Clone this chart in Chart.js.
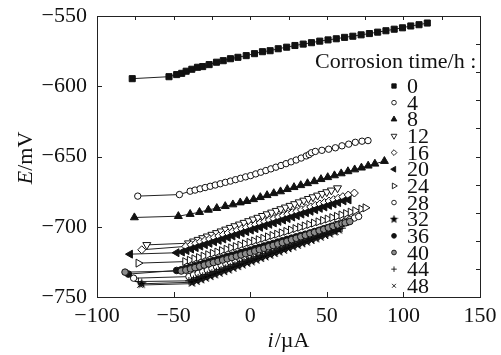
<!DOCTYPE html>
<html><head><meta charset="utf-8">
<script src="https://cdn.jsdelivr.net/npm/chart.js@4"></script>
<style>html,body{margin:0;padding:0;background:#fff}</style>
</head><body>
<canvas id="c" width="501" height="355"></canvas>
<script>
// ---- data ----
const hours = ['0','4','8','12','16','20','24','28','32','36','40','44','48'];
const xTicks = [-100,-50,0,50,100,150];
const yTicks = [-750,-700,-650,-600,-550];
const legendTitle = 'Corrosion time/h :';

const i_0h = [-77,-53,-48,-44.7,-41.8,-38.1,-34.4,-31,-26.8,-22,-17.6,-12.9,-8,-2.6,2.8,8,13,18.3,23.8,29.2,34.6,40,45.4,50.8,56.2,61.6,67,72.4,77.8,83.2,88.6,94,99.4,104.8,110.2,115.6];
const E_0h = [-594.6,-593.2,-591.7,-590.8,-589.3,-587.9,-586.5,-586,-584.6,-582.9,-581.8,-580.4,-579.4,-578.2,-576.8,-575.4,-574.7,-573.3,-572.2,-571,-570,-569,-567.9,-567,-566.2,-565.2,-564.4,-563.4,-562.5,-561.5,-560.5,-559.4,-558.4,-557.1,-556.2,-555];

const i_4h = [-73.4,-46.2,-39.2,-36,-32.7,-29.4,-26.1,-22.8,-19.5,-16.2,-12.9,-9.6,-6.3,-3,0.3,3.6,6.9,10.2,13.5,16.8,20.1,23.4,26.7,30,33.3,36.6,38.5,40,42.5,46.8,51.2,55.6,59.9,64.3,68.6,73,76.9];
const E_4h = [-678.2,-677.1,-674.7,-673.9,-673,-672.1,-671.2,-670.3,-669.4,-668.4,-667.5,-666.5,-665.5,-664.5,-663.6,-662.4,-661.2,-660,-658.8,-657.6,-656.4,-655.1,-653.8,-652.5,-651.1,-649.6,-648.6,-647.3,-646.4,-645.6,-644.8,-643.8,-642.4,-641.2,-639.9,-639.1,-638.7];

const i_8h = [-75.6,-46.9,-39.2,-33.1,-27.3,-21.8,-16.3,-11.3,-6.5,-2.2,2.2,6.6,11,15.4,19.8,24.2,28.6,33,37.4,41.8,46.2,50.6,55,59.4,63.8,68.2,72.6,77,81.4,87.6];
const E_8h = [-693.4,-692.5,-691,-689.6,-688,-686.8,-685.4,-684.2,-682.8,-681.8,-680.5,-679,-677.6,-676.2,-674.9,-673.3,-671.9,-670.5,-669.1,-667.7,-666.2,-664.8,-663.5,-662.1,-660.6,-659.3,-658,-656.6,-655.2,-653.3];

const i_12h = [-67.5,-40.3,-37,-34,-31,-28,-25,-22,-19,-16,-13,-10,-7,-4,-1,2,5,8,11,14,17,20,23,26,29,32,35,38,41,44,47,50,53,57];
const E_12h = [-712.9,-711.7,-710.4,-709.2,-708,-706.8,-705.6,-704.4,-703.2,-701.9,-700.7,-699.5,-698.3,-697.1,-695.9,-694.7,-693.5,-692.2,-691,-689.8,-688.6,-687.4,-686.2,-685,-683.8,-682.5,-681.3,-680.1,-678.9,-677.7,-676.5,-675.3,-674.1,-672.5];

const i_16h = [-70.8,-42,-38.5,-35.5,-32.5,-29.5,-26.5,-23.5,-20.5,-17.5,-14.5,-11.5,-8.5,-5.5,-2.5,0.5,3.5,6.5,9.5,12.5,15.5,18.5,21.5,24.5,27.5,30.5,33.5,36.5,39.5,42.5,45.5,48.5,51.5,54.5,57.5,60.5,64,68];
const E_16h = [-716.4,-714,-712.8,-711.8,-710.7,-709.7,-708.7,-707.6,-706.6,-705.6,-704.5,-703.5,-702.5,-701.4,-700.4,-699.3,-698.3,-697.3,-696.2,-695.2,-694.2,-693.1,-692.1,-691.1,-690,-689,-688,-686.9,-685.9,-684.8,-683.8,-682.8,-681.7,-680.7,-679.7,-678.6,-677.4,-676];

const i_20h = [-78.4,-48,-44.5,-41.5,-38.5,-35.5,-32.5,-29.5,-26.5,-23.5,-20.5,-17.5,-14.5,-11.5,-8.5,-5.5,-2.5,0.5,3.5,6.5,9.5,12.5,15.5,18.5,21.5,24.5,27.5,30.5,33.5,36.5,39.5,42.5,45.5,48.5,51.5,54.5,57.5,61,64.3];
const E_20h = [-719.5,-718.5,-718,-717,-715.9,-714.9,-713.8,-712.8,-711.8,-710.7,-709.7,-708.7,-707.6,-706.6,-705.6,-704.5,-703.5,-702.4,-701.4,-700.4,-699.3,-698.3,-697.3,-696.2,-695.2,-694.2,-693.1,-692.1,-691,-690,-689,-687.9,-686.9,-685.9,-684.8,-683.8,-682.8,-681.6,-680.9];

const i_24h = [-73,-42.5,-39.5,-36.5,-33.5,-30.5,-27.5,-24.5,-21.5,-18.5,-15.5,-12.5,-9.5,-6.5,-3.5,-0.5,2.5,5.5,8.5,11.5,14.5,17.5,20.5,23.5,26.5,29.5,32.5,35.5,38.5,41.5,44.5,47.5,50.5,53.5,56.5,59.5,62.5,65.5,68.5,72.5,75.2];
const E_24h = [-725.9,-724.8,-723.8,-722.8,-721.9,-720.9,-719.9,-718.9,-718,-717,-716,-715,-714.1,-713.1,-712.1,-711.1,-710.1,-709.2,-708.2,-707.2,-706.2,-705.3,-704.3,-703.3,-702.3,-701.3,-700.4,-699.4,-698.4,-697.4,-696.5,-695.5,-694.5,-693.5,-692.6,-691.6,-690.6,-689.6,-688.6,-687.4,-686.5];

const i_28h = [-76.1,-40,-37,-34,-31,-28,-25,-22,-19,-16,-13,-10,-7,-4,-1,2,5,8,11,14,17,20,23,26,29,32,35,38,41,44,47,50,53,56,59,62,65,68,70.8];
const E_28h = [-736.6,-735.5,-734.3,-733.2,-732,-730.8,-729.7,-728.5,-727.3,-726.1,-725,-723.8,-722.6,-721.5,-720.3,-719.3,-718.1,-716.9,-715.8,-714.6,-713.5,-712.3,-711.2,-710,-708.9,-707.7,-706.5,-705.4,-704.2,-703.1,-701.9,-700.8,-699.6,-698.4,-697.3,-696.1,-695,-693.8,-692.7];

const i_32h = [-70.8,-38,-35,-32,-29,-26,-23,-20,-17,-14,-11,-8,-5,-2,1,4,7,10,13,16,19,22,25,28,31,34,37,40,43,46,49,52,55,58];
const E_32h = [-740.6,-739.5,-738.3,-737.2,-736,-734.8,-733.6,-732.4,-731.3,-730.1,-728.9,-727.7,-726.5,-725.4,-724.2,-723.1,-721.9,-720.8,-719.6,-718.4,-717.3,-716.1,-714.9,-713.8,-712.6,-711.4,-710.2,-709.1,-707.9,-706.7,-705.5,-704.4,-703.2,-702];

const i_36h = [-79.5,-48,-45,-42,-39,-36,-33,-30,-27,-24,-21,-18,-15,-12,-9,-6,-3,0,3,6,9,12,15,18,21,24,27,30,33,36,39,42,45,48,51,54,57,60,63];
const E_36h = [-733.7,-731.1,-730.6,-729.7,-728.7,-727.8,-726.9,-725.9,-725,-724.1,-723.1,-722.2,-721.2,-720.3,-719.4,-718.4,-717.5,-716.6,-715.6,-714.7,-713.7,-712.8,-711.9,-710.9,-710,-709,-708.1,-707.2,-706.2,-705.3,-704.4,-703.4,-702.5,-701.5,-700.6,-699.7,-698.7,-697.8,-697];

const i_40h = [-81.7,-45,-42,-39,-36,-33,-30,-27,-24,-21,-18,-15,-12,-9,-6,-3,0,3,6,9,12,15,18,21,24,27,30,33,36,39,42,45,48,51,54,57,60,62,65];
const E_40h = [-732.3,-731.5,-730.9,-730,-729.1,-728.2,-727.3,-726.4,-725.5,-724.6,-723.7,-722.8,-721.9,-721,-720.1,-719.2,-718.3,-717.3,-716.3,-715.3,-714.3,-713.3,-712.3,-711.3,-710.3,-709.2,-708.2,-707.1,-706.1,-705,-704,-702.9,-701.9,-700.8,-699.8,-698.8,-697.8,-697.2,-696.3];

const i_44h = [-73,-40,-37,-34,-31,-28,-25,-22,-19,-16,-13,-10,-7,-4,-1,2,5,8,11,14,17,20,23,26,29,32,35,38,41,44,47,50,53,56,60];
const E_44h = [-739,-738.5,-737.4,-736.3,-735.1,-734,-732.9,-731.8,-730.6,-729.5,-728.4,-727.3,-726.1,-725,-723.9,-722.8,-721.6,-720.5,-719.4,-718.3,-717.1,-716,-714.9,-713.8,-712.6,-711.5,-710.4,-709.3,-708.1,-707,-705.9,-704.8,-703.6,-702.5,-701];

const i_48h = [-72,-38,-35,-32,-29,-26,-23,-20,-17,-14,-11,-8,-5,-2,1,4,7,10,13,16,19,22,25,28,31,34,37,40,43,46,49,52,56];
const E_48h = [-741.5,-740.5,-739.3,-738.2,-737,-735.8,-734.7,-733.5,-732.4,-731.2,-730,-728.9,-727.7,-726.5,-725.4,-724.2,-723.1,-721.9,-720.7,-719.6,-718.4,-717.2,-716.1,-714.9,-713.7,-712.6,-711.4,-710.3,-709.1,-707.9,-706.8,-705.6,-704];

const seriesI = [i_0h,i_4h,i_8h,i_12h,i_16h,i_20h,i_24h,i_28h,i_32h,i_36h,i_40h,i_44h,i_48h];
const seriesE = [E_0h,E_4h,E_8h,E_12h,E_16h,E_20h,E_24h,E_28h,E_32h,E_36h,E_40h,E_44h,E_48h];

// ---- marker styles ----
function makeStar(size){
  const c=document.createElement('canvas'); c.width=size; c.height=size;
  const g=c.getContext('2d'); const cx=size/2, cy=size/2, R=size/2, r=R*0.42;
  g.beginPath();
  for(let k=0;k<10;k++){const a=-Math.PI/2+k*Math.PI/5; const rr=k%2?r:R; g.lineTo(cx+rr*Math.cos(a),cy+rr*Math.sin(a));}
  g.closePath(); g.fillStyle='#000'; g.fill(); return c;
}
const starBig = makeStar(11), starSmall = makeStar(9);
const styles = [
  {ps:'rect', r:4.3, fill:'#111', rot:0},
  {ps:'circle', r:3.2, fill:'#fff', rot:0},
  {ps:'triangle', r:4.6, fill:'#111', rot:0},
  {ps:'triangle', r:4.6, fill:'#fff', rot:180},
  {ps:'rectRot', r:4, fill:'#fff', rot:0},
  {ps:'triangle', r:4.6, fill:'#111', rot:270},
  {ps:'triangle', r:4.6, fill:'#fff', rot:90},
  {ps:'circle', r:3.2, fill:'#fff', rot:0},
  {ps:starBig, r:5, fill:'#111', rot:0, small:starSmall},
  {ps:'circle', r:3.3, fill:'#111', rot:0},
  {ps:'circle', r:3.3, fill:'#8c8c8c', rot:0},
  {ps:'cross', r:3.8, fill:'#111', rot:0},
  {ps:'crossRot', r:3.8, fill:'#111', rot:0}
];

const FONT = "'Liberation Serif','Times New Roman',serif";
const datasets = hours.map((h,k)=>({
  label: h,
  data: seriesI[k].map((x,j)=>({x:x, y:seriesE[k][j]})),
  showLine: true,
  tension: 0,
  borderColor: '#222',
  borderWidth: 1,
  pointStyle: styles[k].ps,
  pointRadius: styles[k].r,
  pointRotation: styles[k].rot,
  pointBackgroundColor: styles[k].fill,
  pointBorderColor: '#111',
  pointBorderWidth: 1,
  order: 12 - k
}));

const decor = {
  id: 'decor',
  afterDraw(chart){
    const ctx = chart.ctx, a = chart.chartArea, xs = chart.scales.x, ys = chart.scales.y;
    ctx.save();
    ctx.strokeStyle = '#222'; ctx.lineWidth = 1;
    ctx.strokeRect(Math.round(a.left)+0.5, Math.round(a.top)+0.5, Math.round(a.right-a.left), Math.round(a.bottom-a.top));
    ctx.beginPath();
    xTicks.forEach(v=>{const p=Math.round(xs.getPixelForValue(v))+0.5; ctx.moveTo(p,a.bottom); ctx.lineTo(p,a.bottom-5);});
    for(let v=-100; v<=150; v+=25){const p=Math.round(xs.getPixelForValue(v))+0.5; ctx.moveTo(p,a.top); ctx.lineTo(p,a.top+4);}
    yTicks.forEach(v=>{const p=Math.round(ys.getPixelForValue(v))+0.5; ctx.moveTo(a.left,p); ctx.lineTo(a.left+5,p);});
    for(let v=-750; v<=-550; v+=20){const p=Math.round(ys.getPixelForValue(v))+0.5; ctx.moveTo(a.right,p); ctx.lineTo(a.right-4,p);}
    ctx.stroke();

    // legend
    ctx.fillStyle = '#111';
    ctx.font = '22px ' + FONT;
    ctx.textBaseline = 'alphabetic';
    ctx.textAlign = 'left';
    ctx.fillText(legendTitle, 315, 68);
    hours.forEach((h,k)=>{
      const base = 93 + 16.65*k;
      ctx.fillStyle = '#111';
      ctx.fillText(h, 407, base);
      const s = styles[k];
      ctx.fillStyle = s.fill; ctx.strokeStyle = '#111'; ctx.lineWidth = 0.9;
      Chart.helpers.drawPoint(ctx, {pointStyle: s.small || s.ps, radius: s.r*0.72, rotation: s.rot, borderWidth: 0.9}, 394, base - 7);
    });

    // axis titles
    ctx.fillStyle = '#111';
    const it = '22px ' + FONT, itI = 'italic 22px ' + FONT;
    ctx.font = itI; const w1 = ctx.measureText('i').width;
    ctx.font = it; const w2 = ctx.measureText('/µA').width;
    let x0 = 288 - (w1+w2)/2;
    ctx.font = itI; ctx.fillText('i', x0, 347);
    ctx.font = it; ctx.fillText('/µA', x0 + w1 + 1, 347);
    ctx.save();
    ctx.translate(32, 158); ctx.rotate(-Math.PI/2);
    ctx.font = itI; const v1 = ctx.measureText('E').width;
    ctx.font = it; const v2 = ctx.measureText('/mV').width;
    let y0 = -(v1+v2)/2;
    ctx.font = itI; ctx.fillText('E', y0, 0);
    ctx.font = it; ctx.fillText('/mV', y0 + v1, 0);
    ctx.restore();
    ctx.restore();
  }
};

const fmt = v => String(v).replace('-', '\u2212');
new Chart(document.getElementById('c'), {
  type: 'scatter',
  data: { datasets },
  options: {
    responsive: false,
    animation: false,
    devicePixelRatio: 1,
    layout: { padding: { top: 16, right: 21, left: 0, bottom: 0 } },
    plugins: { legend: { display: false }, tooltip: { enabled: false } },
    scales: {
      x: {
        type: 'linear', min: -100, max: 150,
        afterBuildTicks: s => { s.ticks = xTicks.map(v=>({value:v})); },
        afterFit: s => { s.height = 58; s.paddingLeft = 0; s.paddingRight = 0; },
        grid: { display: false, drawTicks: false },
        border: { display: false },
        ticks: { color: '#111', font: { family: FONT, size: 22 }, padding: 6, maxRotation: 0, callback: fmt }
      },
      y: {
        type: 'linear', min: -750, max: -550,
        afterBuildTicks: s => { s.ticks = yTicks.map(v=>({value:v})); },
        afterFit: s => { s.width = 97; s.paddingTop = 0; s.paddingBottom = 0; },
        grid: { display: false, drawTicks: false },
        border: { display: false },
        ticks: { color: '#111', font: { family: FONT, size: 22 }, padding: 10, callback: fmt }
      }
    }
  },
  plugins: [decor]
});
</script>
</body></html>
